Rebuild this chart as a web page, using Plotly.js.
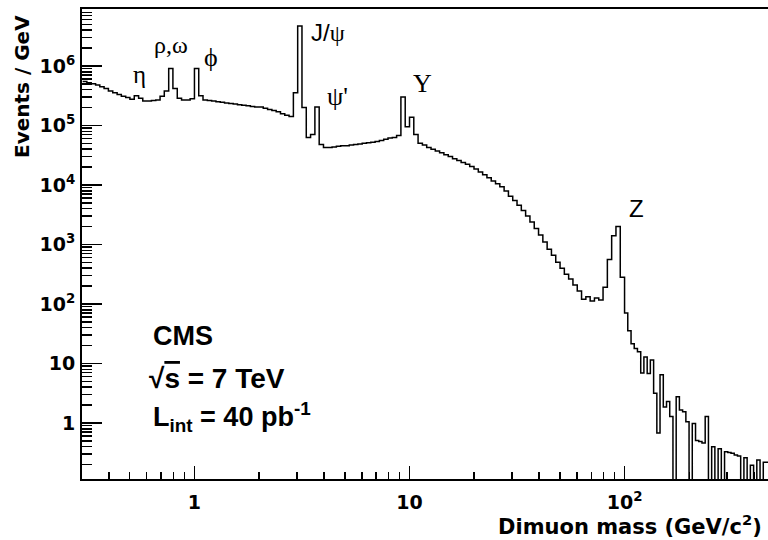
<!DOCTYPE html>
<html>
<head>
<meta charset="utf-8">
<script src="https://cdn.plot.ly/plotly-3.0.1.min.js"></script>
<style>
  html, body { margin: 0; padding: 0; background: #fff; overflow: hidden; }
  #chart { width: 768px; height: 540px; }
</style>
</head>
<body>
<div id="chart"></div>
<script>
// ---- Data ----
// Lower bin edges of the dimuon mass histogram (GeV/c^2)
const massEdges = [
  0.302, 0.316, 0.331, 0.347, 0.363, 0.380, 0.398, 0.417, 0.437, 0.457,
  0.479, 0.501, 0.525, 0.550, 0.575, 0.603, 0.631, 0.661, 0.692, 0.724,
  0.759, 0.794, 0.832, 0.871, 0.912, 0.955, 1.000, 1.047, 1.096, 1.148,
  1.202, 1.259, 1.318, 1.380, 1.445, 1.514, 1.585, 1.660, 1.738, 1.820,
  1.905, 1.995, 2.089, 2.188, 2.291, 2.399, 2.512, 2.630, 2.754, 2.884,
  3.020, 3.162, 3.311, 3.467, 3.631, 3.802, 3.981, 4.169, 4.365, 4.571,
  4.786, 5.012, 5.248, 5.495, 5.754, 6.026, 6.310, 6.607, 6.918, 7.244,
  7.586, 7.943, 8.318, 8.710, 9.120, 9.550, 10.00, 10.47, 10.96, 11.48,
  12.02, 12.59, 13.18, 13.80, 14.45, 15.14, 15.85, 16.60, 17.38, 18.20,
  19.05, 19.95, 20.89, 21.88, 22.91, 23.99, 25.12, 26.30, 27.54, 28.84,
  30.20, 31.62, 33.11, 34.67, 36.31, 38.02, 39.81, 41.69, 43.65, 45.71,
  47.86, 50.12, 52.48, 54.95, 57.54, 60.26, 63.10, 66.07, 69.18, 72.44,
  75.86, 79.43, 83.18, 87.10, 91.20, 95.50,
  100.0, 103.5, 107.2, 110.9, 114.8, 118.9, 123.0, 127.4, 131.8, 136.5,
  141.3, 146.2, 151.4, 156.7, 162.2, 167.9, 173.8, 179.9, 186.2, 192.8,
  199.5, 206.5, 213.8, 221.3, 229.1, 237.1, 245.5, 254.1, 263.0, 272.3,
  281.8, 291.7, 302.0, 312.6, 323.6, 335.0, 346.7, 358.9, 371.5, 384.6,
  398.1, 412.1, 426.6, 441.6, 457.1, 473.2
];
// Events / GeV in each bin (0 = empty bin)
const eventsPerGeV = [
  550000, 525000, 501000, 479000, 447000, 417000, 380000, 355000, 331000, 309000,
  295000, 275000, 316000, 288000, 257000, 257000, 263000, 269000, 309000, 380000,
  912000, 417000, 288000, 269000, 269000, 282000, 912000, 316000, 269000, 263000,
  257000, 251000, 245000, 240000, 234000, 229000, 224000, 219000, 214000, 209000,
  204000, 204000, 195000, 186000, 178000, 170000, 158000, 148000, 141000, 355000,
  4680000, 200000, 63100, 70800, 204000, 47900, 42700, 42700, 43700, 44700,
  45700, 45700, 46800, 47900, 49000, 50100, 51300, 52500, 53700, 56200,
  58900, 61700, 63100, 67600, 302000, 95500, 138000, 70800, 50100, 46800,
  42700, 39800, 37200, 34700, 32400, 30200, 27500, 25700, 24000, 22400,
  20400, 18600, 16600, 14800, 13200, 11700, 10500, 9330, 7940, 6460,
  5500, 4570, 3720, 3020, 2400, 1860, 1450, 1100, 832, 661,
  501, 398, 316, 263, 209, 166, 120, 132, 112, 126,
  117, 191, 562, 1410, 2000, 282,
  70.8, 35.5, 21.4, 17.8, 15.8, 6.9, 12.9, 6.8, 11.5, 3.16,
  0.68, 6.5, 1.86, 2.29, 1.29, 0, 2.75, 1.66, 1.55, 1.05,
  0, 0.98, 0.51, 0.49, 0.46, 1.29, 0, 0.40, 0, 0.37,
  0, 0.33, 0.32, 0.31, 0.29, 0.28, 0, 0.26, 0, 0.195,
  0, 0.24, 0, 0.22, 0.22, 0.22
];
const peakLabels = ['\u03b7', '\u03c1,\u03c9', '\u03d5', 'J/\u03c8', "\u03c8'", '\u03a5', 'Z'];
const xTickVals = [1, 10, 100];
const xTickText = ['1', '10', '10<sup>2</sup>'];
const yTickVals = [1, 10, 100, 1e3, 1e4, 1e5, 1e6];
const yTickText = ['1', '10', '10<sup>2</sup>', '10<sup>3</sup>', '10<sup>4</sup>', '10<sup>5</sup>', '10<sup>6</sup>'];
const xMinorTicks = [0.4, 0.5, 0.6, 0.7, 0.8, 0.9, 2, 3, 4, 5, 6, 7, 8, 9, 20, 30, 40, 50, 60, 70, 80, 90, 200, 300, 400];
const yMinorTicks = [];
[0.1, 1, 10, 100, 1e3, 1e4, 1e5, 1e6].forEach(function (d) {
  for (let k = 2; k <= 9; k++) yMinorTicks.push(k * d);
});

// ---- Layout helpers (pixel -> paper) ----
const W = 768, H = 540, ML = 82, MR = 0, MT = 9, MB = 61;
const PW = W - ML - MR, PH = H - MT - MB;
function px(x) { return (x - ML) / PW; }
function py(y) { return (H - MB - y) / PH; }

// empty bins are drawn down to the bottom of the log axis
const yPlot = eventsPerGeV.map(function (v) { return v > 0 ? v : 1e-3; });

const trace = {
  type: 'scatter',
  mode: 'lines',
  x: massEdges,
  y: yPlot,
  line: { shape: 'hv', color: '#000', width: 1.5 },
  hoverinfo: 'skip',
  showlegend: false
};
// empty trace that only carries the minor-tick axes
const minorHolder = { type: 'scatter', mode: 'lines', x: [], y: [], xaxis: 'x2', yaxis: 'y2', showlegend: false, hoverinfo: 'skip' };

const serif = 'Liberation Serif, Times New Roman, serif';
const sans = 'Liberation Sans, Arial, sans-serif';
const wide = 'DejaVu Sans, Verdana, sans-serif';
const labelPos = [[139, 75, serif, 25], [171, 45, serif, 24], [211, 58, serif, 26],
                  [328, 33, sans, 24], [337, 96, serif, 26], [422, 83, serif, 26], [636, 208, sans, 24]];
const annotations = peakLabels.map(function (t, i) {
  const p = labelPos[i];
  let txt = t;
  if (i === 3) txt = 'J/<span style="font-family:Liberation Serif">\u03c8</span>';
  return {
    xref: 'paper', yref: 'paper', x: px(p[0]), y: py(p[1]), text: txt, showarrow: false,
    xanchor: 'center', yanchor: 'middle', font: { family: p[2], size: p[3], color: '#000' }
  };
});
const boldSans = { family: sans, size: 27, color: '#000', weight: 'bold' };
annotations.push(
  { xref: 'paper', yref: 'paper', x: px(151), y: py(336), text: '<b>CMS</b>', showarrow: false, xanchor: 'left', yanchor: 'middle', font: boldSans },
  { xref: 'paper', yref: 'paper', x: px(147), y: py(378), text: '<b>\u221a<span style="text-decoration:overline">s</span> = 7 TeV</b>', showarrow: false, xanchor: 'left', yanchor: 'middle', font: { family: sans, size: 28, color: '#000', weight: 'bold' } },
  { xref: 'paper', yref: 'paper', x: px(151), y: py(417), text: '<b>L<sub>int</sub> = 40 pb<sup>-1</sup></b>', showarrow: false, xanchor: 'left', yanchor: 'middle', font: boldSans },
  { xref: 'paper', yref: 'paper', x: px(764), y: py(525), text: '<b>Dimuon mass (GeV/c<sup>2</sup>)</b>', showarrow: false, xanchor: 'right', yanchor: 'middle', font: { family: wide, size: 21, color: '#000', weight: 'bold' } },
  { xref: 'paper', yref: 'paper', x: px(22), y: py(87), text: '<b>Events / GeV</b>', showarrow: false, textangle: -90, xanchor: 'center', yanchor: 'middle', font: { family: wide, size: 20, color: '#000', weight: 'bold' } }
);

const tickFont = { family: wide, size: 19, color: '#000', weight: 'bold' };
const layout = {
  width: W, height: H,
  margin: { l: ML, r: MR, t: MT, b: MB, pad: 0 },
  paper_bgcolor: '#fff', plot_bgcolor: 'rgba(0,0,0,0)',
  showlegend: false,
  xaxis: {
    type: 'log', range: [-0.5229, 2.667], autorange: false,
    tickmode: 'array', tickvals: xTickVals, ticktext: xTickText,
    ticks: 'inside', ticklen: 13, tickwidth: 1.5, tickcolor: '#000',
    showline: true, linecolor: '#000', linewidth: 2, mirror: true,
    showgrid: false, zeroline: false, tickfont: tickFont, ticklabelstandoff: 5
  },
  yaxis: {
    type: 'log', range: [-0.941, 6.958], autorange: false,
    tickmode: 'array', tickvals: yTickVals, ticktext: yTickText,
    ticks: 'inside', ticklen: 20, tickwidth: 1.5, tickcolor: '#000',
    showline: true, linecolor: '#000', linewidth: 2, mirror: false,
    showgrid: false, zeroline: false, tickfont: tickFont, ticklabelstandoff: 1
  },
  xaxis2: {
    type: 'log', range: [-0.5229, 2.667], autorange: false, overlaying: 'x', anchor: 'y2', side: 'bottom',
    tickmode: 'array', tickvals: xMinorTicks, showticklabels: false,
    ticks: 'inside', ticklen: 7, tickwidth: 1.5, tickcolor: '#000',
    showline: false, showgrid: false, zeroline: false
  },
  yaxis2: {
    type: 'log', range: [-0.941, 6.958], autorange: false, overlaying: 'y', anchor: 'x2', side: 'left',
    tickmode: 'array', tickvals: yMinorTicks, showticklabels: false,
    ticks: 'inside', ticklen: 10, tickwidth: 1.5, tickcolor: '#000',
    showline: false, showgrid: false, zeroline: false
  },
  annotations: annotations
};

Plotly.newPlot('chart', [trace, minorHolder], layout, { staticPlot: true, displayModeBar: false });
</script>
</body>
</html>
